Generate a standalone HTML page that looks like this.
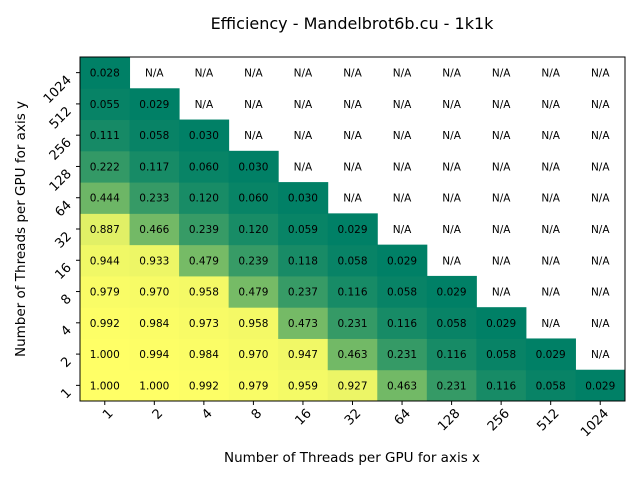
<!DOCTYPE html>
<html><head><meta charset="utf-8"><style>
body{margin:0;background:#fff;}
svg{font-family:"DejaVu Sans","Liberation Sans",sans-serif;}
</style></head><body>
<svg id="chart" width="640" height="480" viewBox="0 0 640 480">
<text x="352" y="29" font-size="16" text-anchor="middle">Efficiency - Mandelbrot6b.cu - 1k1k</text>
<text x="352" y="462" font-size="13.5" text-anchor="middle">Number of Threads per GPU for axis x</text>
<text transform="translate(25,229) rotate(-90)" font-size="13.5" text-anchor="middle">Number of Threads per GPU for axis y</text>
<g id="cells"></g>
<g id="ticks"></g>
<rect x="80" y="57" width="545" height="344" fill="none" stroke="#000" stroke-width="1"/>
</svg>
<script>
const xCategories = ["1","2","4","8","16","32","64","128","256","512","1024"];
const yCategories = ["1","2","4","8","16","32","64","128","256","512","1024"];
const rowY1 = [1.000,1.000,0.992,0.979,0.959,0.927,0.463,0.231,0.116,0.058,0.029];
const rowY2 = [1.000,0.994,0.984,0.970,0.947,0.463,0.231,0.116,0.058,0.029];
const rowY4 = [0.992,0.984,0.973,0.958,0.473,0.231,0.116,0.058,0.029];
const rowY8 = [0.979,0.970,0.958,0.479,0.237,0.116,0.058,0.029];
const rowY16 = [0.944,0.933,0.479,0.239,0.118,0.058,0.029];
const rowY32 = [0.887,0.466,0.239,0.120,0.059,0.029];
const rowY64 = [0.444,0.233,0.120,0.060,0.030];
const rowY128 = [0.222,0.117,0.060,0.030];
const rowY256 = [0.111,0.058,0.030];
const rowY512 = [0.055,0.029];
const rowY1024 = [0.028];
const rows = [rowY1,rowY2,rowY4,rowY8,rowY16,rowY32,rowY64,rowY128,rowY256,rowY512,rowY1024];

const NS="http://www.w3.org/2000/svg";
const L=80,R=625,T=57,B=401;
const cw=(R-L)/xCategories.length, ch=(B-T)/yCategories.length;
function xPos(i){return L+i*cw;}
function yPos(j){return B-(j+1)*ch;}
const all=[].concat(...rows);
const vmin=Math.min(...all), vmax=Math.max(...all);
function color(v){let t=(v-vmin)/(vmax-vmin);t=Math.max(0,Math.min(1,t));
 return `rgb(${Math.round(255*t)},${Math.round(255*(0.5+0.5*t))},102)`;}
const cells=document.getElementById('cells');
const ticks=document.getElementById('ticks');
for(let j=0;j<yCategories.length;j++){
 for(let i=0;i<xCategories.length;i++){
  const v=rows[j][i];
  const has=v!==undefined;
  if(has){
   const r=document.createElementNS(NS,'rect');
   r.setAttribute('x',xPos(i));r.setAttribute('y',yPos(j));
   r.setAttribute('width',cw+0.5);r.setAttribute('height',ch+0.5);
   r.setAttribute('fill',color(v));
   
   
   cells.appendChild(r);
  }
  const t=document.createElementNS(NS,'text');
  t.setAttribute('x',xPos(i)+cw/2);t.setAttribute('y',yPos(j)+ch/2+4);
  t.setAttribute('font-size','10.5');t.setAttribute('text-anchor','middle');
  t.textContent=has?v.toFixed(3):'N/A';
  
  
  cells.appendChild(t);
 }
}
xCategories.forEach((c,i)=>{
 const cx=xPos(i)+cw/2;
 const l=document.createElementNS(NS,'line');
 l.setAttribute('x1',cx);l.setAttribute('x2',cx);l.setAttribute('y1',B);l.setAttribute('y2',B+4);l.setAttribute('stroke','#000');
 
 
 ticks.appendChild(l);
 const t=document.createElementNS(NS,'text');
 t.setAttribute('transform',`translate(${cx+9},${B+13}) rotate(-45)`);
 t.setAttribute('font-size','13');t.setAttribute('text-anchor','end');
 t.textContent=c;
 
 
 ticks.appendChild(t);
});
yCategories.forEach((c,j)=>{
 const cy=yPos(j)+ch/2;
 const l=document.createElementNS(NS,'line');
 l.setAttribute('x1',L-4);l.setAttribute('x2',L);l.setAttribute('y1',cy);l.setAttribute('y2',cy);l.setAttribute('stroke','#000');
 
 
 ticks.appendChild(l);
 const t=document.createElementNS(NS,'text');
 t.setAttribute('transform',`translate(${L-8},${cy+8}) rotate(-45)`);
 t.setAttribute('font-size','13');t.setAttribute('text-anchor','end');
 t.textContent=c;
 
 
 ticks.appendChild(t);
});
</script>
</body></html>
